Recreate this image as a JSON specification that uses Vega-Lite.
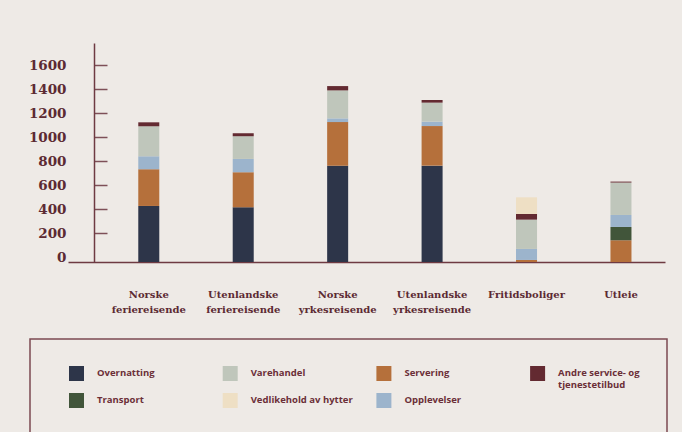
{
  "$schema": "https://vega.github.io/schema/vega-lite/v6.json",
  "width": 597,
  "height": 219,
  "autosize": {"type": "none"},
  "padding": {"left": 68, "top": 43, "right": 17, "bottom": 170},
  "background": "#eeeae6",
  "config": {"view": {"stroke": null}},
  "datasets": {
    "kostnader": [
      {"gruppe": "Norske feriereisende", "kategori": "Overnatting", "verdi": 467},
      {"gruppe": "Norske feriereisende", "kategori": "Servering", "verdi": 306},
      {"gruppe": "Norske feriereisende", "kategori": "Opplevelser", "verdi": 108},
      {"gruppe": "Norske feriereisende", "kategori": "Varehandel", "verdi": 250},
      {"gruppe": "Norske feriereisende", "kategori": "Andre service- og tjenestetilbud", "verdi": 33},
      {"gruppe": "Utenlandske feriereisende", "kategori": "Overnatting", "verdi": 456},
      {"gruppe": "Utenlandske feriereisende", "kategori": "Servering", "verdi": 292},
      {"gruppe": "Utenlandske feriereisende", "kategori": "Opplevelser", "verdi": 111},
      {"gruppe": "Utenlandske feriereisende", "kategori": "Varehandel", "verdi": 189},
      {"gruppe": "Utenlandske feriereisende", "kategori": "Andre service- og tjenestetilbud", "verdi": 25},
      {"gruppe": "Norske yrkesreisende", "kategori": "Overnatting", "verdi": 803},
      {"gruppe": "Norske yrkesreisende", "kategori": "Servering", "verdi": 363},
      {"gruppe": "Norske yrkesreisende", "kategori": "Opplevelser", "verdi": 31},
      {"gruppe": "Norske yrkesreisende", "kategori": "Varehandel", "verdi": 233},
      {"gruppe": "Norske yrkesreisende", "kategori": "Andre service- og tjenestetilbud", "verdi": 36},
      {"gruppe": "Utenlandske yrkesreisende", "kategori": "Overnatting", "verdi": 803},
      {"gruppe": "Utenlandske yrkesreisende", "kategori": "Servering", "verdi": 330},
      {"gruppe": "Utenlandske yrkesreisende", "kategori": "Opplevelser", "verdi": 37},
      {"gruppe": "Utenlandske yrkesreisende", "kategori": "Varehandel", "verdi": 158},
      {"gruppe": "Utenlandske yrkesreisende", "kategori": "Andre service- og tjenestetilbud", "verdi": 22},
      {"gruppe": "Fritidsboliger", "kategori": "Servering", "verdi": 17},
      {"gruppe": "Fritidsboliger", "kategori": "Opplevelser", "verdi": 92},
      {"gruppe": "Fritidsboliger", "kategori": "Varehandel", "verdi": 244},
      {"gruppe": "Fritidsboliger", "kategori": "Andre service- og tjenestetilbud", "verdi": 47},
      {"gruppe": "Fritidsboliger", "kategori": "Vedlikehold av hytter", "verdi": 139},
      {"gruppe": "Utleie", "kategori": "Servering", "verdi": 181},
      {"gruppe": "Utleie", "kategori": "Transport", "verdi": 111},
      {"gruppe": "Utleie", "kategori": "Opplevelser", "verdi": 100},
      {"gruppe": "Utleie", "kategori": "Varehandel", "verdi": 270},
      {"gruppe": "Utleie", "kategori": "Andre service- og tjenestetilbud", "verdi": 8}
    ],
    "stabling": [
      {"kategori": "Overnatting", "rang": 1},
      {"kategori": "Servering", "rang": 2},
      {"kategori": "Transport", "rang": 3},
      {"kategori": "Opplevelser", "rang": 4},
      {"kategori": "Varehandel", "rang": 5},
      {"kategori": "Andre service- og tjenestetilbud", "rang": 6},
      {"kategori": "Vedlikehold av hytter", "rang": 7}
    ]
  },
  "data": {"name": "kostnader"},
  "transform": [
    {"lookup": "kategori", "from": {"data": {"name": "stabling"}, "key": "kategori", "fields": ["rang"]}}
  ],
  "mark": {"type": "bar"},
  "encoding": {
    "x": {
      "field": "gruppe",
      "type": "nominal",
      "sort": ["Norske feriereisende", "Utenlandske feriereisende", "Norske yrkesreisende", "Utenlandske yrkesreisende", "Fritidsboliger", "Utleie"],
      "scale": {"paddingInner": 0.7775, "paddingOuter": 0.5496, "align": 0.677},
      "axis": {
        "title": null,
        "labelAngle": 0,
        "ticks": false,
        "domainColor": "#6e3a42",
        "domainWidth": 1.5,
        "labelFont": "DejaVu Serif",
        "labelFontWeight": "bold",
        "labelFontSize": 10,
        "labelColor": "#5c2a33",
        "labelPadding": 27,
        "labelBaseline": "top",
        "labelLineHeight": 15,
        "labelExpr": "split(datum.label, ' ')"
      }
    },
    "y": {
      "field": "verdi",
      "type": "quantitative",
      "stack": "zero",
      "scale": {"domain": [0, 1825], "nice": false},
      "axis": {
        "title": null,
        "values": [0, 200, 400, 600, 800, 1000, 1200, 1400, 1600],
        "format": "d",
        "tickOffset": -5,
        "grid": false,
        "domainColor": "#6e3a42",
        "domainWidth": 1.5,
        "tickColor": "#7e5058",
        "tickWidth": 1.5,
        "tickSize": -13,
        "tickOpacity": {"condition": {"test": "datum.value == 0", "value": 0}, "value": 1},
        "offset": -26,
        "labelFont": "DejaVu Serif",
        "labelFontWeight": "bold",
        "labelFontSize": 13.5,
        "labelColor": "#5c2a33",
        "labelPadding": 41
      }
    },
    "order": {"field": "rang", "type": "quantitative", "sort": "ascending"},
    "color": {
      "field": "kategori",
      "type": "nominal",
      "scale": {
        "domain": ["Overnatting", "Varehandel", "Servering", "Andre service- og tjenestetilbud", "Transport", "Vedlikehold av hytter", "Opplevelser"],
        "range": ["#2d3549", "#bfc6bb", "#b5703b", "#632a31", "#41553a", "#eedfc4", "#9cb4cc"]
      },
      "legend": {
        "title": null,
        "orient": "none",
        "legendX": -38,
        "legendY": 296,
        "columns": 4,
        "direction": "horizontal",
        "gridAlign": "all",
        "symbolType": "square",
        "symbolSize": 225,
        "symbolStrokeWidth": 0,
        "symbolOpacity": 1,
        "symbolOffset": 12,
        "labelOffset": 13,
        "labelFont": "Open Sans",
        "labelFontWeight": "bold",
        "labelFontSize": 9.5,
        "labelColor": "#6b2f38",
        "labelLimit": 200,
        "labelBaseline": "top",
        "labelExpr": "datum.label == 'Andre service- og tjenestetilbud' ? ['Andre service- og', 'tjenestetilbud'] : [datum.label, ' ']",
        "padding": 27,
        "strokeColor": "#7c4a52",
        "rowPadding": 4,
        "columnPadding": 10.7,
        "encode": {
          "legend": {
            "update": {
              "strokeWidth": {"value": 1.5}
            }
          },
          "labels": {
            "update": {
              "lineHeight": {"value": 12},
              "dy": {"value": -6}
            }
          }
        }
      }
    }
  }
}
